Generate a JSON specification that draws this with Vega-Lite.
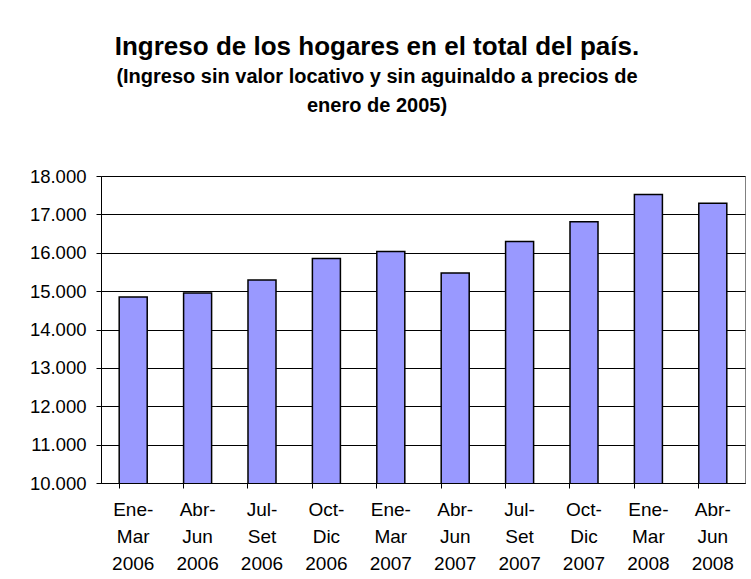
{
  "$schema": "https://vega.github.io/schema/vega-lite/v6.json",
  "width": 644,
  "height": 307,
  "autosize": "none",
  "padding": {"left": 101, "top": 176, "right": 6, "bottom": 96},
  "background": "white",
  "title": {
    "text": "Ingreso de los hogares en el total del país.",
    "subtitle": ["(Ingreso sin valor locativo y sin aguinaldo a precios de", "enero de 2005)"],
    "anchor": "middle",
    "dx": -46,
    "offset": 51,
    "font": "Liberation Sans",
    "fontSize": 26,
    "fontWeight": "bold",
    "color": "black",
    "subtitleFont": "Liberation Sans",
    "subtitleFontSize": 20,
    "subtitleFontWeight": "bold",
    "subtitleColor": "black",
    "subtitleLineHeight": 29,
    "subtitlePadding": 7
  },
  "config": {
    "view": {"stroke": "#808080", "strokeWidth": 1},
    "font": "Liberation Sans"
  },
  "data": {
    "values": [
      {"periodo": "Ene-Mar 2006", "ingreso": 14850},
      {"periodo": "Abr-Jun 2006", "ingreso": 14950},
      {"periodo": "Jul-Set 2006", "ingreso": 15290},
      {"periodo": "Oct-Dic 2006", "ingreso": 15850},
      {"periodo": "Ene-Mar 2007", "ingreso": 16035},
      {"periodo": "Abr-Jun 2007", "ingreso": 15470},
      {"periodo": "Jul-Set 2007", "ingreso": 16290},
      {"periodo": "Oct-Dic 2007", "ingreso": 16810},
      {"periodo": "Ene-Mar 2008", "ingreso": 17520},
      {"periodo": "Abr-Jun 2008", "ingreso": 17290}
    ]
  },
  "mark": {"type": "bar", "fill": "#9999FF", "stroke": "black", "strokeWidth": 1.5, "clip": true},
  "encoding": {
    "x": {
      "field": "periodo",
      "type": "nominal",
      "sort": null,
      "scale": {"paddingInner": 0.565, "paddingOuter": 0.2825},
      "axis": {
        "title": null,
        "labelAngle": 0,
        "labelFont": "Liberation Sans",
        "labelFontSize": 19,
        "labelColor": "black",
        "labelLineHeight": 27,
        "labelPadding": 12,
        "labelExpr": "split(replace(replace(datum.value, '-', '-|'), ' ', '|'), '|')",
        "tickSize": 5,
        "tickColor": "black",
        "bandPosition": 0,
        "domainColor": "black",
        "grid": false
      }
    },
    "y": {
      "field": "ingreso",
      "type": "quantitative",
      "scale": {"domain": [10000, 18000], "nice": false, "zero": false},
      "axis": {
        "title": null,
        "values": [10000, 11000, 12000, 13000, 14000, 15000, 16000, 17000, 18000],
        "labelExpr": "replace(format(datum.value, ','), ',', '.')",
        "labelFont": "Liberation Sans",
        "labelFontSize": 18.5,
        "labelColor": "black",
        "labelPadding": 10,
        "tickSize": 5,
        "tickColor": "black",
        "domainColor": "black",
        "grid": true,
        "gridColor": "black",
        "gridOpacity": 1
      }
    }
  }
}
